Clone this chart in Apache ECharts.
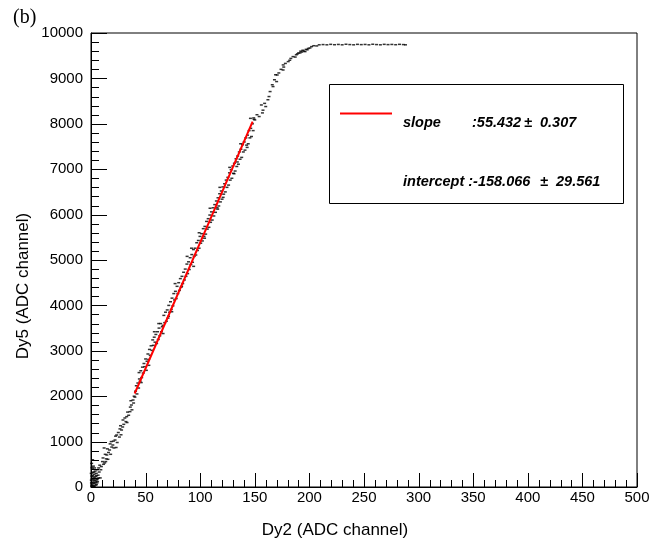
<!DOCTYPE html>
<html>
<head>
<meta charset="utf-8">
<script src="https://cdn.jsdelivr.net/npm/echarts@6/dist/echarts.min.js"></script>
<style>html,body{margin:0}#c{width:665px;height:548px;background:#fff;}</style>
</head>
<body>
<div id="c"></div>
<script>
// ---- data ----
const xTicks = [0, 50, 100, 150, 200, 250, 300, 350, 400, 450, 500];
const yTicks = [0, 1000, 2000, 3000, 4000, 5000, 6000, 7000, 8000, 9000, 10000];
const xTitle = 'Dy2 (ADC channel)';
const yTitle = 'Dy5 (ADC channel)';

// low-amplitude cluster near the origin
const pointsLow = [
  [0.5,20],[1,60],[1.5,110],[2,30],[2.5,160],[3,80],[3.5,200],[4,40],[4.5,130],[5,250],
  [5.5,90],[6,180],[0.8,240],[1.8,320],[2.8,280],[1.2,400],[2.2,460],[0.6,520],[3.8,350],
  [4.8,300],[5.8,380],[6.5,260],[7,420],[7.5,330],[8,480],[8.5,200],[9,380],[0.3,150],
  [1,180],[2,220],[3,10],[4,100],[5,50],[6,120],[7,200],[0.2,300],[1.5,600],[2.5,10],[0.4,90],
  [1.1,30],[2.1,90],[3.1,140],[1.6,250],[2.6,330],[0.9,430],[3.3,420],[4.3,230],[5.2,160],
  [9.5,450],[10.5,560],[11,640],[11.5,500],[12.5,530],[13,720],[14,620],[14.5,705],[15,840],
  [16,760],[17,815],[17.5,950],[18,720],[19,880],[20,925],[20.5,1010],[21,860],[22,1035],
  [22.5,1120],[23.5,1145],[24,980],[25,1200],[26,1100],[26.5,1280],[27,1350],[28,1255],
  [29,1322],[29.3,1476],[30,1380],[31,1520],[32,1440],[32.7,1550],[33.5,1650],[34.5,1580],
  [35.7,1660],[36,1760],[37,1806],[37.5,1700],[38.5,1916],[39,1850],[39.5,2000],
  [12,860],[15.5,610],[18.5,1000],[23,870],[27.5,1150],[33,1420],[36.5,1900],[13.5,560]
];
// points along the linear part
const pointsMid = [
  [40.2,1980],[40.8,2110],[41.5,2230],[42.1,2050],[42.9,2290],[43.6,2180],[44.3,2380],[45.0,2330],
  [45.6,2560],[46.4,2410],[47.1,2640],[47.8,2510],[48.5,2720],[49.2,2650],[50.0,2820],[50.7,2570],
  [51.3,2770],[52.1,2930],[52.8,2810],[53.5,3030],[54.2,2900],[55.0,3110],[55.8,3010],[56.5,3240],
  [57.1,3120],[57.9,3300],[58.6,3190],[59.4,3360],[60.1,3160],[60.9,3420],[61.6,3250],[62.3,3500],
  [63.0,3330],[63.8,3600],[64.5,3420],[65.3,3530],[66.0,3560],[66.7,3780],[67.5,3620],[68.2,3850],
  [69.0,3650],[69.8,3900],[70.5,3720],[71.2,4000],[72.0,3850],[72.8,4080],[73.5,3910],[74.2,4160],
  [75.0,3990],[75.8,4260],[76.5,4120],[77.3,4310],[78.0,4150],[78.8,4420],[79.5,4260],[80.3,4500],
  [81.0,4330],[81.8,4590],[82.5,4400],[83.3,4640],[84.0,4480],[84.8,4730],[85.5,4560],[86.3,4800],
  [87.0,4640],[87.8,4910],[88.5,4700],[89.3,4960],[90.0,4790],[90.8,5050],[91.5,4900],[92.3,5120],
  [93.0,4950],[93.8,5230],[94.5,5080],[95.3,5260],[96.0,5110],[96.8,5380],[97.5,5210],[98.3,5430],
  [99.0,5260],[99.8,5520],[100.5,5370],[101.3,5580],[102.0,5420],[102.8,5690],[103.5,5520],[104.3,5740],
  [105.0,5570],[105.8,5850],[106.5,5680],[107.3,5910],[108.0,5720],[108.8,5990],[109.5,5830],[110.3,6060],
  [111.0,5880],[111.8,6150],[112.5,5970],[113.3,6220],[114.0,6050],[114.8,6300],[115.5,6150],[116.3,6370],
  [117.0,6190],[117.8,6460],[118.5,6280],[119.3,6520],[120.0,6340],[120.8,6610],[121.5,6450],[122.3,6680],
  [123.0,6500],[123.8,6760],[124.5,6600],[125.3,6820],[126.0,6650],[126.8,6920],[127.5,6760],[128.3,6990],
  [129.0,6800],[129.8,7070],[130.5,6910],[131.3,7130],[132.0,6960],[132.8,7230],[133.5,7060],[134.3,7290],
  [135.0,7110],[135.8,7380],[136.5,7220],[137.3,7440],[138.0,7260],[138.8,7540],[139.5,7380],[140.3,7600],
  [141.0,7420],[141.8,7690],[142.5,7530],[143.3,7750],[144.0,7560],[144.8,7850],[145.5,7690],[146.3,7900],
  [147.0,7720],[147.8,8000],[148.5,7850],[149.3,8100],
  [44,2520],[53,2680],[58,3420],[66,3380],[71,3760],[77,4480],[83,4420],[88,5080],[94,4860],
  [99,5600],[104,5480],[109,6140],[116,6120],[121,6380],[127,7040],[131,6900],[137,7560],[143,7480],
  [46,2300],[62,3600],[74,3860],[92,5260],[118,6600],[134,7160],[146,8120]
];
// saturation curve and plateau
const pointsHigh = [
  [149,8130],[150,8085],[152,8200],[154,8160],[156,8415],[157,8240],[157.5,8300],[159,8450],
  [160,8380],[162,8530],[163,8600],[164,8710],[166,8860],[166.7,8820],[168,8970],[169,9080],
  [170,8930],[170.5,9075],[172,9120],[174,9200],[175.9,9185],[176,9297],[176.5,9250],[178,9330],
  [180.6,9370],[182,9400],[183,9440],[185,9480],[187,9470],[188,9520],[189,9540],[190,9560],
  [191.4,9560],[192,9600],[193,9580],[194,9620],[195,9600],[196,9590],[197,9640],[198,9630],
  [199,9660],[200.5,9670],[202,9700],[204,9720],[206.7,9715],
  [209,9740],[212.5,9745],[216,9740],[219.5,9750],[223,9742],[226.5,9748],[230,9740],[233.5,9752],
  [237,9745],[240.5,9740],[244,9750],[247.5,9744],[251,9748],[254.5,9740],[258,9752],[261.5,9745],
  [265,9740],[268.5,9750],[272,9744],[275.5,9748],[279,9742],[282.5,9750],[286,9745],[288,9740]
];
// fitted straight line (end points read from the red segment)
const fitLine = [[40, 2059], [148, 8046]];
const fitText = {slope: ':55.432', slopeErr: '\u00b1  0.307', intercept: 'intercept :-158.066', interceptErr: '\u00b1  29.561'};

const FONT = '"Liberation Sans", Arial, Helvetica, sans-serif';
const allPoints = pointsLow.concat(pointsMid, pointsHigh);

// axis tick marks (major every 50 / 1000, minor every 10 / 200), placed through the axes' scales
const tickMarks = [];
for (let v = 0; v <= 500; v += 10) tickMarks.push([v, 0, xTicks.indexOf(v) >= 0 ? 0 : 1]);
for (let v = 0; v <= 10000; v += 200) tickMarks.push([0, v, yTicks.indexOf(v) >= 0 ? 2 : 3]);
const TICK_LEN = [14, 7, 16, 8];

function renderTick(params, api) {
  const kind = api.value(2);
  const p = api.coord([api.value(0), api.value(1)]);
  const len = TICK_LEN[kind];
  let shape;
  if (kind < 2) {
    const x = Math.round(p[0]) + 0.5;
    shape = {x1: x, y1: p[1], x2: x, y2: p[1] - len};
  } else {
    const y = Math.round(p[1]) + 0.5;
    shape = {x1: p[0], y1: y, x2: p[0] + len, y2: y};
  }
  return {type: 'line', shape: shape, style: {stroke: '#000', lineWidth: 1}, silent: true};
}

const chart = echarts.init(document.getElementById('c'));
chart.setOption({
  animation: false,
  grid: {left: 91, right: 28, top: 33, bottom: 61, show: true, borderColor: '#000', borderWidth: 1},
  xAxis: {
    type: 'value', min: 0, max: 500, interval: 50,
    axisLine: {show: true, onZero: false, lineStyle: {color: '#000', width: 1}},
    axisTick: {show: false}, splitLine: {show: false},
    axisLabel: {color: '#000', fontSize: 15, fontFamily: FONT, margin: 3,
      formatter: function (v) { return xTicks.indexOf(v) >= 0 ? String(v) : ''; }}
  },
  yAxis: {
    type: 'value', min: 0, max: 10000, interval: 1000,
    axisLine: {show: true, onZero: false, lineStyle: {color: '#000', width: 1}},
    axisTick: {show: false}, splitLine: {show: false},
    axisLabel: {color: '#000', fontSize: 15, fontFamily: FONT, margin: 8,
      formatter: function (v) { return yTicks.indexOf(v) >= 0 ? String(v) : ''; }}
  },
  series: [
    {type: 'custom', data: tickMarks, renderItem: renderTick, silent: true, z: 5,
      dimensions: ['x', 'y', 'kind'], encode: {x: 0, y: 1}},
    {type: 'scatter', data: allPoints, symbol: 'rect', symbolSize: [3, 1.5],
      itemStyle: {color: '#000'}, silent: true},
    {type: 'line', data: fitLine, symbol: 'none', lineStyle: {color: '#ff0000', width: 2}, silent: true}
  ],
  graphic: [
    {type: 'text', left: 13, top: 8, style: {text: '(b)', font: '20px "Liberation Serif", "Times New Roman", serif', fill: '#000'}},
    {type: 'text', x: 335, y: 530, style: {text: xTitle, font: '17px ' + FONT, fill: '#000', textAlign: 'center', textVerticalAlign: 'middle'}},
    {type: 'text', x: 23, y: 286, rotation: Math.PI / 2, style: {text: yTitle, font: '17px ' + FONT, fill: '#000', textAlign: 'center', textVerticalAlign: 'middle'}},
    {type: 'rect', shape: {x: 329.5, y: 84.5, width: 294, height: 119}, style: {fill: '#fff', stroke: '#000', lineWidth: 1}, z: 10},
    {type: 'line', shape: {x1: 340, y1: 113.5, x2: 392, y2: 113.5}, style: {stroke: '#ff0000', lineWidth: 2}, z: 11},
    {type: 'text', x: 403, y: 123, z: 11, style: {text: 'slope', font: 'italic bold 14.5px ' + FONT, fill: '#000', textVerticalAlign: 'middle'}},
    {type: 'text', x: 472, y: 123, z: 11, style: {text: fitText.slope, font: 'italic bold 14.5px ' + FONT, fill: '#000', textVerticalAlign: 'middle'}},
    {type: 'text', x: 524, y: 123, z: 11, style: {text: fitText.slopeErr, font: 'italic bold 14.5px ' + FONT, fill: '#000', textVerticalAlign: 'middle'}},
    {type: 'text', x: 403, y: 182, z: 11, style: {text: fitText.intercept, font: 'italic bold 14.5px ' + FONT, fill: '#000', textVerticalAlign: 'middle'}},
    {type: 'text', x: 540, y: 182, z: 11, style: {text: fitText.interceptErr, font: 'italic bold 14.5px ' + FONT, fill: '#000', textVerticalAlign: 'middle'}}
  ]
});
</script>
</body>
</html>
